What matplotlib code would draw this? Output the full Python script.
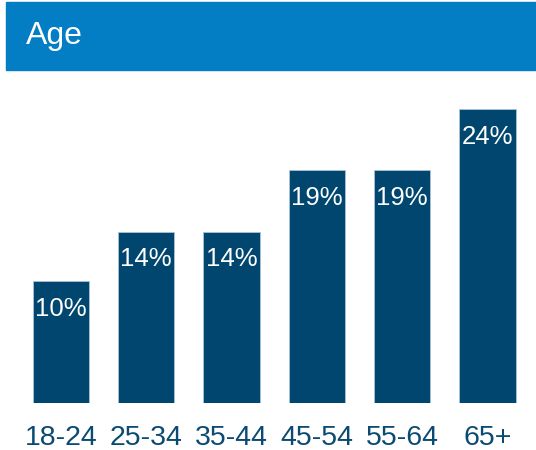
import matplotlib.pyplot as plt
from matplotlib.patches import Rectangle

#--------------------------------------------------------------------------
# data
#--------------------------------------------------------------------------

age_groups = ["18-24", "25-34", "35-44", "45-54", "55-64", "65+"]
shares = [10, 14, 14, 19, 19, 24]
share_labels = ["10%", "14%", "14%", "19%", "19%", "24%"]

bar_color = "#00466E"
header_color = "#037DC3"
text_color = "#0B4A72"

#--------------------------------------------------------------------------
# plot
#--------------------------------------------------------------------------

plt.rcParams['font.family'] = ['Liberation Sans', 'DejaVu Sans']

W, H = 536, 450
fig = plt.figure(figsize=(W / 100, H / 100), dpi=100)

# header band, runs off the right edge
fig.patches.append(Rectangle((6 / W, 1 - 70 / H), 530 / W, 68 / H,
                             transform=fig.transFigure, color=header_color, zorder=0))
fig.text(26 / W, 1 - 44 / H, "Age", color="white", fontsize=23,
         va="baseline", ha="left")

ax = fig.add_axes([18.2 / W, 47 / H, 512 / W, 306.25 / H])
x = list(range(len(age_groups)))
bars = ax.bar(x, shares, width=0.662, color=bar_color, edgecolor="#A9C4D6", linewidth=0.6)

for b, lab in zip(bars, share_labels):
    ax.annotate(lab, (b.get_x() + b.get_width() / 2, b.get_height()),
                xytext=(0, -28 * 0.72), textcoords="offset points",
                ha="center", va="center", color="white", fontsize=18.5)

ax.set_xlim(-0.5, len(age_groups) - 0.5)
ax.set_ylim(0, 25)
ax.set_xticks(x)
ax.set_xticklabels(age_groups, fontsize=20.5, color=text_color)
ax.tick_params(axis="x", length=0, pad=16)
ax.set_yticks([])
for s in ax.spines.values():
    s.set_visible(False)

fig.savefig("out.png", dpi=100)
